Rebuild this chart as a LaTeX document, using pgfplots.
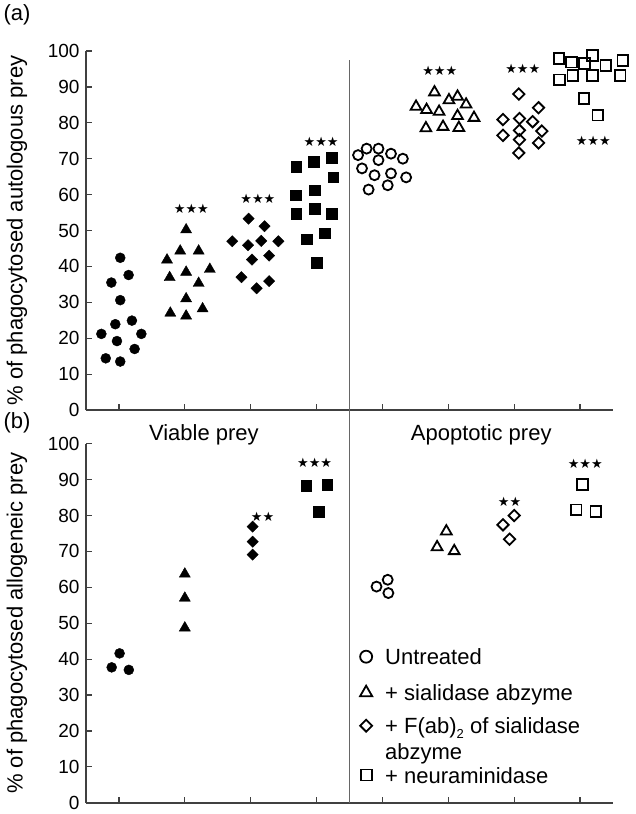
\documentclass[border=0pt]{standalone}
\usepackage{fontspec}
\setmainfont{Liberation Sans}
\newfontfamily\starfont{DejaVu Sans}
\usepackage{pgfplots}
\pgfplotsset{compat=1.18}

\pgfplotsset{
  panel/.style={
    scale only axis, width=527pt, height=359pt,
    xmin=0.5, xmax=8.5, ymin=0, ymax=100,
    axis x line=bottom, axis y line=left,
    axis line style={-, black!75, line width=1.6pt},
    every tick/.style={black!75, line width=1.2pt},
    major tick length=6pt, tick align=inside,
    xtick={1,...,8}, xticklabels={},
    ytick={0,10,...,100},
    /pgf/number format/assume math mode=true,
    tick label style={font=\fontsize{19}{21}\selectfont},
    yticklabel style={xshift=-3pt},
    label style={font=\fontsize{22}{24}\selectfont},
    ylabel style={at={(axis description cs:-0.131,0.5)}, anchor=center},
    clip=false,
  },
  fc/.style={only marks, mark=*, mark size=5pt, black},
  ft/.style={only marks, mark=triangle*, mark size=6.4pt, black},
  fd/.style={only marks, mark=square*, mark size=4pt, mark options={rotate=45}, black},
  fs/.style={only marks, mark=square*, mark size=5.3pt, black},
  oc/.style={only marks, mark=o, mark size=5pt, black, mark options={line width=1.8pt}},
  ot/.style={only marks, mark=triangle, mark size=6.2pt, black, mark options={line width=1.8pt}},
  od/.style={only marks, mark=square, mark size=4pt, black, mark options={rotate=45, line width=1.8pt}},
  os/.style={only marks, mark=square, mark size=5.3pt, black, mark options={line width=1.8pt}},
}
\newcommand{\stars}[1]{{\starfont\fontsize{13}{14}\selectfont #1}}

\begin{document}
\begin{tikzpicture}
% (a) autologous prey
\begin{axis}[panel, at={(86pt,-410pt)}, anchor=south west,
  ylabel={\% of phagocytosed autologous prey}]
\addplot[fc] coordinates {(1.02,42.4)(0.885,35.5)(1.147,37.6)(1.02,30.6)(0.945,23.9)(1.197,24.9)(0.733,21.2)(1.34,21.2)(0.97,19.2)(1.238,17.0)(0.80,14.4)(1.02,13.5)};
\addplot[ft] coordinates {(2.02,50.2)(1.73,41.8)(1.93,44.3)(2.21,44.3)(2.38,39.2)(1.77,36.9)(2.02,38.4)(2.21,35.3)(2.02,31.0)(1.78,27.0)(2.02,26.2)(2.27,28.2)};
\addplot[fd] coordinates {(2.968,53.3)(3.21,51.2)(2.72,47.0)(2.96,45.9)(3.16,47.1)(3.42,47.0)(3.02,41.9)(3.28,43.0)(2.86,37.0)(3.09,33.9)(3.28,35.9)};
\addplot[fs] coordinates {(3.69,67.7)(3.96,69.1)(4.23,70.3)(4.25,64.9)(3.68,59.8)(3.97,61.2)(3.97,56.1)(3.69,54.6)(4.23,54.6)(3.85,47.6)(4.12,49.2)(4.0,41.1)};
\addplot[oc] coordinates {(4.63,71.0)(4.76,72.8)(4.94,72.8)(5.13,71.4)(5.31,70.0)(4.69,67.3)(4.94,69.6)(4.88,65.4)(5.13,65.9)(5.36,64.8)(5.08,62.6)(4.79,61.4)};
\addplot[ot] coordinates {(5.79,88.5)(5.51,84.5)(5.67,83.6)(5.86,83.1)(6.01,86.3)(6.14,87.3)(6.27,85.1)(6.14,81.9)(6.39,81.4)(5.66,78.5)(5.92,78.9)(6.16,78.6)};
\addplot[od] coordinates {(7.07,88.0)(7.37,84.2)(6.83,80.9)(7.08,81.2)(7.28,80.3)(7.08,77.9)(7.42,77.7)(6.83,76.5)(7.08,75.3)(7.37,74.4)(7.07,71.6)};
\addplot[os] coordinates {(7.68,97.9)(7.87,96.9)(8.07,96.5)(8.19,98.8)(8.39,96.0)(8.65,97.4)(7.69,92.0)(7.89,93.2)(8.19,93.2)(8.61,93.2)(8.06,86.8)(8.27,82.1)};
\draw[black!60, line width=1.5pt] (axis cs:4.5,0) -- (axis cs:4.5,97.4);
\node at (axis cs:2.10,56.1) {\stars{★★★}};
\node at (axis cs:3.11,58.7) {\stars{★★★}};
\node at (axis cs:4.07,74.7) {\stars{★★★}};
\node at (axis cs:5.87,94.6) {\stars{★★★}};
\node at (axis cs:7.13,95.1) {\stars{★★★}};
\node at (axis cs:8.20,75.1) {\stars{★★★}};
\end{axis}

% (b) allogeneic prey
\begin{axis}[panel, at={(86pt,-802.7pt)}, anchor=south west,
  ylabel={\% of phagocytosed allogeneic prey},
  legend cell align=left,
  legend style={at={(axis cs:4.62,45.1)}, anchor=north west, draw=none, fill=none,
    inner sep=0pt, font=\fontsize{22}{24}\selectfont,
    nodes={inner sep=0pt, text depth=}, /tikz/column sep=13pt}]
\addplot[fc, forget plot] coordinates {(1.01,41.6)(0.89,37.7)(1.15,37.0)};
\addplot[ft, forget plot] coordinates {(2.0,63.7)(2.0,57.0)(2.0,48.7)};
\addplot[fd, forget plot] coordinates {(3.03,76.9)(3.03,72.7)(3.03,69.1)};
\addplot[fs, forget plot] coordinates {(3.84,88.3)(4.16,88.6)(4.03,81.1)};
\addplot[oc, forget plot] coordinates {(4.91,60.2)(5.08,62.1)(5.09,58.4)};
\addplot[ot, forget plot] coordinates {(5.97,75.6)(5.83,71.2)(6.09,70.1)};
\addplot[od, forget plot] coordinates {(7.00,80.0)(6.83,77.4)(6.93,73.4)};
\addplot[os, forget plot] coordinates {(8.04,88.6)(7.94,81.6)(8.24,81.1)};
\addlegendimage{only marks, mark=o, mark size=6pt, black, mark options={line width=1.8pt}}
\addlegendentry{\rule[-7.7pt]{0pt}{31.4pt}Untreated}
\addlegendimage{only marks, mark=triangle, mark size=7pt, black, mark options={line width=1.8pt}}
\addlegendentry{\rule[-12.3pt]{0pt}{40.6pt}+ sialidase abzyme}
\addlegendimage{only marks, mark=square, mark size=4.2pt, black, mark options={rotate=45, line width=1.8pt}}
\addlegendentry{\rule[-4.4pt]{0pt}{24.8pt}+ F(ab)\raisebox{-5pt}{\fontsize{13}{14}\selectfont 2} of sialidase}
\addlegendimage{empty legend}
\addlegendentry{\rule[-4.6pt]{0pt}{25.2pt}abzyme}
\addlegendimage{only marks, mark=square, mark size=5.5pt, black, mark options={line width=1.8pt}}
\addlegendentry{\rule[-3.4pt]{0pt}{22.8pt}+ neuraminidase}
\draw[black!60, line width=1.5pt] (axis cs:4.5,0) -- (axis cs:4.5,109.5);
\node[anchor=base, font=\fontsize{22}{24}\selectfont] at (axis cs:2.29,100.9) {Viable prey};
\node[anchor=base, font=\fontsize{22}{24}\selectfont] at (axis cs:6.50,100.9) {Apoptotic prey};
\node at (axis cs:3.18,79.7) {\stars{★★}};
\node at (axis cs:3.97,94.6) {\stars{★★★}};
\node at (axis cs:6.93,83.9) {\stars{★★}};
\node at (axis cs:8.08,94.3) {\stars{★★★}};
\end{axis}

\node[anchor=west, font=\fontsize{22}{24}\selectfont] at (0pt,-15pt) {(a)};
\node[anchor=west, font=\fontsize{22}{24}\selectfont] at (0pt,-423pt) {(b)};
\pgfresetboundingbox
\path (0,0) rectangle (636pt,-814pt);
\end{tikzpicture}
\end{document}
